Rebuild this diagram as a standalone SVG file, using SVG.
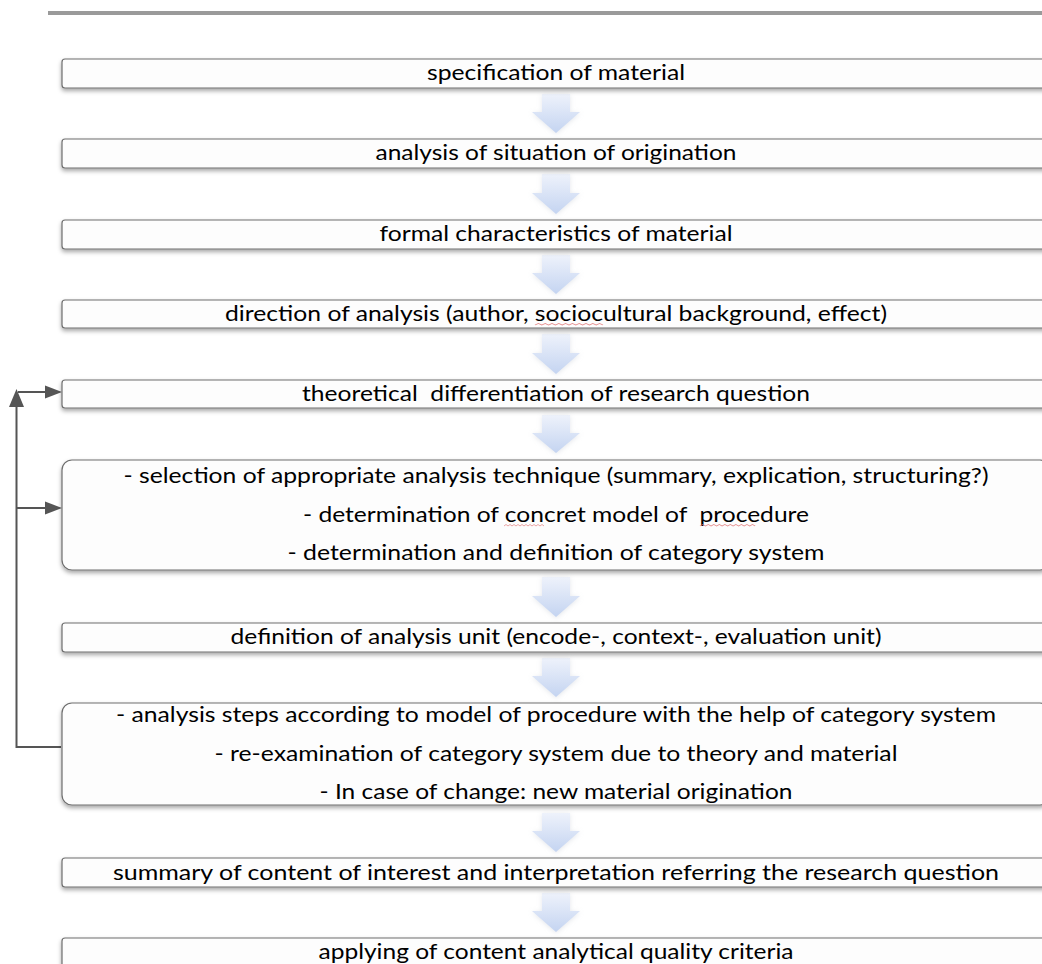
<svg xmlns="http://www.w3.org/2000/svg" width="1042" height="964" viewBox="0 0 1042 964">
  <style>
    .box { fill: #fdfdfd; stroke: #6e6e6e; stroke-width: 1.2; filter: url(#shadow); }
    .lbl { font-family: Lato, "Open Sans", "Liberation Sans", sans-serif; font-size: 22px; fill: #000; text-anchor: middle; white-space: pre; }
    .down { fill: url(#blueGrad); filter: url(#glow); }
    .link { fill: none; stroke: #555; stroke-width: 2; }
    .head { fill: #555; }
    .spell { fill: none; stroke: #e07070; stroke-width: 0.8; opacity: 0.8; }
  </style>
  <defs>
    <filter id="shadow" x="-5%" y="-30%" width="110%" height="170%">
      <feDropShadow dx="0" dy="2.5" stdDeviation="2" flood-color="#000" flood-opacity="0.35"/>
    </filter>
    <filter id="glow" x="-30%" y="-30%" width="160%" height="160%">
      <feDropShadow dx="0" dy="1" stdDeviation="2.5" flood-color="#b0b8c8" flood-opacity="0.35"/>
    </filter>
    <linearGradient id="blueGrad" x1="0" y1="0" x2="0" y2="1">
      <stop offset="0" stop-color="#eef2fb"/>
      <stop offset="1" stop-color="#c4d4f1"/>
    </linearGradient>
    <!-- wavy spell-check mark, 2px per half wave -->
    <path id="wave" d="M0,0 l2,-1.5 l2,1.5 l2,-1.5 l2,1.5 l2,-1.5 l2,1.5 l2,-1.5 l2,1.5 l2,-1.5 l2,1.5 l2,-1.5 l2,1.5 l2,-1.5 l2,1.5 l2,-1.5 l2,1.5 l2,-1.5 l2,1.5 l2,-1.5 l2,1.5"/>
  </defs>

  <!-- header rule -->
  <rect x="48" y="11" width="994" height="4" fill="#9a9a9a"/>

  <!-- feedback connectors -->
  <g id="connectors">
    <path class="link" d="M61,747 H16.5 V404"/>
    <polygon class="head" points="16.5,389 9,407 24,407"/>
    <path class="link" d="M18,392 H46"/>
    <polygon class="head" points="62,392 45,385.5 45,398.5"/>
    <path class="link" d="M16.5,508 H46"/>
    <polygon class="head" points="62,508 45,501.5 45,514.5"/>
  </g>

  <!-- flow arrows between steps -->
  <g id="flow-arrows">
    <path class="down" d="M542,94 H570 V112 H580 L556,133 L532,112 H542 Z"/>
    <path class="down" d="M542,174 H570 V193 H580 L556,214 L532,193 H542 Z"/>
    <path class="down" d="M542,255 H570 V273 H580 L556,294 L532,273 H542 Z"/>
    <path class="down" d="M542,334 H570 V353 H580 L556,374 L532,353 H542 Z"/>
    <path class="down" d="M542,415 H570 V433 H580 L556,453 L532,433 H542 Z"/>
    <path class="down" d="M542,577 H570 V596 H580 L556,617 L532,596 H542 Z"/>
    <path class="down" d="M542,658 H570 V676 H580 L556,697 L532,676 H542 Z"/>
    <path class="down" d="M542,813 H570 V831 H580 L556,852 L532,831 H542 Z"/>
    <path class="down" d="M542,893 H570 V911 H580 L556,932 L532,911 H542 Z"/>
  </g>

  <g id="n1">
    <rect class="box" x="62" y="59" width="988" height="29" rx="3"/>
    <text class="lbl" x="556" y="80" textLength="258" lengthAdjust="spacingAndGlyphs">specification of material</text>
  </g>
  <g id="n2">
    <rect class="box" x="62" y="139" width="988" height="29" rx="3"/>
    <text class="lbl" x="556" y="160" textLength="361" lengthAdjust="spacingAndGlyphs">analysis of situation of origination</text>
  </g>
  <g id="n3">
    <rect class="box" x="62" y="220" width="988" height="29" rx="3"/>
    <text class="lbl" x="556" y="241" textLength="353" lengthAdjust="spacingAndGlyphs">formal characteristics of material</text>
  </g>
  <g id="n4">
    <rect class="box" x="62" y="300" width="988" height="28" rx="3"/>
    <text class="lbl" x="556" y="321" textLength="662" lengthAdjust="spacingAndGlyphs">direction of analysis (author, sociocultural background, effect)</text>
    <use class="spell" href="#wave" x="0" y="0" transform="translate(535,325) scale(1.7,1)"/>
  </g>
  <g id="n5">
    <rect class="box" x="62" y="380" width="988" height="28" rx="3"/>
    <text class="lbl" x="556" y="401" textLength="508" lengthAdjust="spacingAndGlyphs">theoretical  differentiation of research question</text>
  </g>
  <g id="n6">
    <rect class="box" x="62" y="460" width="988" height="110" rx="10"/>
    <text class="lbl" x="556" y="483" textLength="865" lengthAdjust="spacingAndGlyphs">- selection of appropriate analysis technique (summary, explication, structuring?)</text>
    <text class="lbl" x="556" y="521.5" textLength="506" lengthAdjust="spacingAndGlyphs">- determination of concret model of  procedure</text>
    <text class="lbl" x="556" y="560" textLength="537" lengthAdjust="spacingAndGlyphs">- determination and definition of category system</text>
    <use class="spell" href="#wave" transform="translate(504,526) scale(1.0,1)"/>
    <use class="spell" href="#wave" transform="translate(700,526) scale(1.38,1)"/>
  </g>
  <g id="n7">
    <rect class="box" x="62" y="623" width="988" height="29" rx="3"/>
    <text class="lbl" x="556" y="644" textLength="651" lengthAdjust="spacingAndGlyphs">definition of analysis unit (encode-, context-, evaluation unit)</text>
  </g>
  <g id="n8">
    <rect class="box" x="62" y="703" width="988" height="102" rx="10"/>
    <text class="lbl" x="556" y="722" textLength="880" lengthAdjust="spacingAndGlyphs">- analysis steps according to model of procedure with the help of category system</text>
    <text class="lbl" x="556" y="760.5" textLength="683" lengthAdjust="spacingAndGlyphs">- re-examination of category system due to theory and material</text>
    <text class="lbl" x="556" y="799" textLength="473" lengthAdjust="spacingAndGlyphs">- In case of change: new material origination</text>
  </g>
  <g id="n9">
    <rect class="box" x="62" y="858" width="988" height="29" rx="3"/>
    <text class="lbl" x="556" y="880" textLength="886" lengthAdjust="spacingAndGlyphs">summary of content of interest and interpretation referring the research question</text>
  </g>
  <g id="n10">
    <rect class="box" x="62" y="938" width="988" height="40" rx="3"/>
    <text class="lbl" x="556" y="959" textLength="475" lengthAdjust="spacingAndGlyphs">applying of content analytical quality criteria</text>
  </g>
</svg>
